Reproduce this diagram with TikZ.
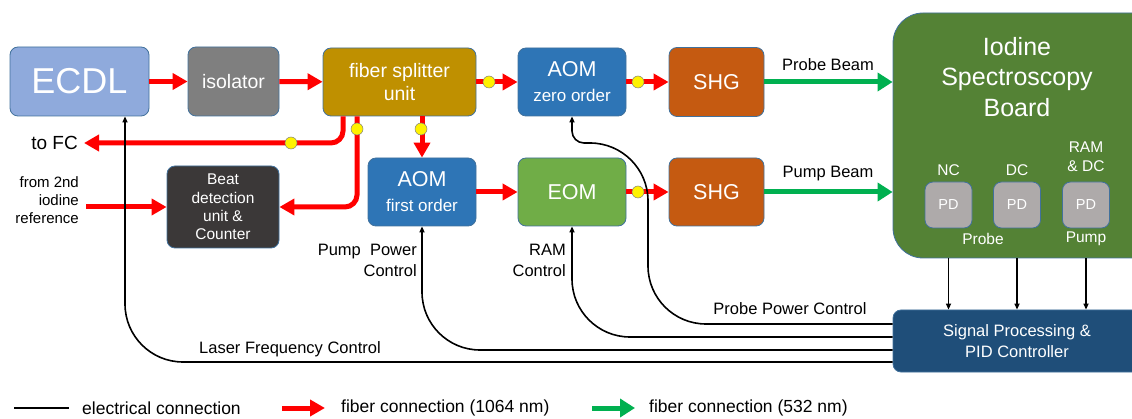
\documentclass[tikz,border=0pt]{standalone}
\usepackage{fontspec}
\setmainfont{Liberation Sans}
\usepackage{xcolor}
\usepackage{tikz}
\usetikzlibrary{arrows.meta}

\definecolor{ecdlblue}{HTML}{8FAADC}
\definecolor{isogray}{HTML}{7F7F7F}
\definecolor{splitgold}{HTML}{BF9000}
\definecolor{aomblue}{HTML}{2E75B6}
\definecolor{shgorange}{HTML}{C55A11}
\definecolor{eomgreen}{HTML}{70AD47}
\definecolor{boardgreen}{HTML}{548235}
\definecolor{spblue}{HTML}{1F4E79}
\definecolor{beatgray}{HTML}{3B3838}
\definecolor{pdgray}{HTML}{AEAAAA}
\definecolor{edgeblue}{HTML}{41719C}
\definecolor{beamgreen}{HTML}{00B050}

\newcommand{\fs}[1]{\fontsize{#1}{1.2\dimexpr#1pt\relax}\selectfont}

\begin{document}
\begin{tikzpicture}[x=1pt,y=-1pt,
  box/.style={draw=edgeblue,line width=.8pt,rounded corners=8pt,text=white,align=center,inner sep=0pt},
  fiber/.style={red,line width=5pt,-{Triangle[length=15pt,width=16pt]}},
  beam/.style={beamgreen,line width=5pt,-{Triangle[length=15pt,width=18pt]}},
  elec/.style={black,line width=1.6pt,-{Triangle[length=6pt,width=5pt]}},
  dot/.style={circle,draw=isogray,line width=.5pt,fill=yellow,minimum size=12pt,inner sep=0pt},
  lab/.style={text=black,align=center,inner sep=0pt,font=\fs{16}}]
  \path[use as bounding box,clip] (0,0) rectangle (1132,419);

  \node[box,fill=ecdlblue,minimum width=139pt,minimum height=69pt,font=\fs{36}] (ecdl) at (79.5,81.5) {ECDL};
  \node[box,fill=isogray,minimum width=91pt,minimum height=69pt,font=\fs{19.5}] (iso) at (233.5,81.5) {isolator};
  \node[box,fill=splitgold,minimum width=153pt,minimum height=68pt,font=\fontsize{19.5}{23.5}\selectfont] (split) at (399.5,82) {fiber splitter\\unit};
  \node[box,fill=aomblue,minimum width=108pt,minimum height=68pt,font=\fontsize{21.5}{25}\selectfont] (aomz) at (572,82) {AOM\\{\fontsize{17}{20}\selectfont zero order}};
  \node[box,fill=shgorange,minimum width=95pt,minimum height=69pt,font=\fs{21.5}] (shgz) at (716.5,82) {SHG};
  \node[box,fill=aomblue,minimum width=108pt,minimum height=68pt,font=\fontsize{21.5}{25}\selectfont] (aomf) at (422,192) {AOM\\{\fontsize{17}{20}\selectfont first order}};
  \node[box,fill=eomgreen,minimum width=108pt,minimum height=68pt,font=\fs{21.5}] (eom) at (572,192) {EOM};
  \node[box,fill=shgorange,minimum width=95pt,minimum height=68pt,font=\fs{21.5}] (shgf) at (716.5,192) {SHG};
  \node[box,fill=beatgray,minimum width=112pt,minimum height=82pt,font=\fontsize{15.5}{18.3}\selectfont] (beat) at (223,207) {Beat\\detection\\unit \&\\Counter};

  \node[box,fill=boardgreen,rounded corners=30pt,minimum width=280pt,minimum height=245pt] (board) at (1033,135.5) {};
  \node[lab,text=white,font=\fontsize{25}{30.5}\selectfont] (boardtitle) at (1017,77) {Iodine\\Spectroscopy\\Board};
  \node[box,fill=pdgray,minimum width=47pt,minimum height=46pt,font=\fs{14.5}] (pdnc) at (948.5,205) {PD};
  \node[box,fill=pdgray,minimum width=47pt,minimum height=46pt,font=\fs{14.5}] (pddc) at (1017,205) {PD};
  \node[box,fill=pdgray,minimum width=47pt,minimum height=46pt,font=\fs{14.5}] (pdram) at (1086,205) {PD};
  \node[lab,text=white,font=\fs{15.5}] (nclab) at (948.5,170) {NC};
  \node[lab,text=white,font=\fs{15.5}] (dclab) at (1017,170) {DC};
  \node[lab,text=white,font=\fontsize{15.5}{19}\selectfont] (ramlab) at (1086,157) {RAM\\\& DC};
  \node[lab,text=white,font=\fs{15.5}] (probepd) at (983,239) {Probe};
  \node[lab,text=white,font=\fs{15.5}] (pumppd) at (1086,239) {Pump};

  \node[box,fill=spblue,minimum width=248pt,minimum height=62pt,font=\fontsize{16.5}{20.5}\selectfont] (sp) at (1017,341) {Signal Processing \&\\PID Controller};

  \node[lab,anchor=east,font=\fs{19}] (tofc) at (78,143) {to FC};
  \node[lab,anchor=east,align=right,font=\fontsize{15}{18.3}\selectfont] (fromref) at (79,200) {from 2nd\\iodine\\reference};

  \draw[fiber] (ecdl) -- (iso);
  \draw[fiber] (iso) -- (split);
  \draw[fiber] (split) -- (aomz);
  \draw[fiber] (aomz) -- (shgz);
  \draw[fiber] (aomf.north |- split.south) -- (aomf.north);
  \draw[fiber] (aomf) -- (eom);
  \draw[fiber] (eom) -- (shgf);
  \draw[fiber,rounded corners=12pt] ([xshift=-56.5pt]split.south) |- ([xshift=6pt]tofc.east);
  \draw[fiber,rounded corners=12pt] ([xshift=-42.5pt]split.south) |- (beat.east);
  \draw[fiber] ([xshift=7pt]fromref.east |- beat.west) -- (beat.west);

  \draw[beam] (shgz.east) -- (shgz.east -| board.west);
  \draw[beam] (shgf.east) -- (shgf.east -| board.west);
  \node[lab,font=\fs{16.5}] (probebeam) at (828,65) {Probe Beam};
  \node[lab,font=\fs{16.5}] (pumpbeam) at (828,174) {Pump Beam};

  \node[dot] (d1) at (489,82) {};
  \node[dot] (d2) at (638,82) {};
  \node[dot] (d3) at (421,129) {};
  \node[dot] (d4) at (357,129) {};
  \node[dot] (d5) at (291,143) {};
  \node[dot] (d6) at (638,192) {};

  \draw[elec] (pdnc |- board.south) -- (pdnc |- sp.north);
  \draw[elec] (pddc |- board.south) -- (pddc |- sp.north);
  \draw[elec] (pdram |- board.south) -- (pdram |- sp.north);

  \coordinate (pbend) at (648,143);
  \draw[elec] ([yshift=17pt]sp.west) [rounded corners=58pt] -| (pbend) [rounded corners=12pt] -| (aomz.south);
  \draw[elec,rounded corners=58pt] ([yshift=4pt]sp.west) -| (eom.south);
  \draw[elec,rounded corners=58pt] ([yshift=-9pt]sp.west) -| (aomf.south);
  \draw[elec,rounded corners=58pt] ([yshift=-21pt]sp.west) -| ([xshift=45.5pt]ecdl.south);

  \node[lab,anchor=east,align=right,font=\fontsize{16.5}{21}\selectfont] (pumpctl) at (417,260) {Pump\ \ Power\\Control};
  \node[lab,anchor=east,align=right,font=\fontsize{16.5}{21}\selectfont] (ramctl) at (566,260) {RAM\\Control};
  \node[lab,font=\fs{16.5}] (probectl) at (790,309) {Probe Power Control};
  \node[lab,font=\fs{16.5}] (laserctl) at (290,349) {Laser Frequency Control};

  \coordinate (le1) at (14,408);
  \coordinate (le2) at (69,408);
  \coordinate (lr1) at (282,408);
  \coordinate (lr2) at (325,408);
  \coordinate (lg1) at (592,408);
  \coordinate (lg2) at (635,408);
  \draw[line width=1.6pt] (le1) -- (le2);
  \draw[fiber] (lr1) -- (lr2);
  \draw[beam] (lg1) -- (lg2);
  \node[lab,anchor=west,font=\fs{17.5}] (elecleg) at (82,408) {electrical connection};
  \node[lab,anchor=west,font=\fs{17.5}] (redleg) at (341,408) {fiber connection (1064 nm)};
  \node[lab,anchor=west,font=\fs{17.5}] (greenleg) at (649,408) {fiber connection (532 nm)};
\end{tikzpicture}
\end{document}
